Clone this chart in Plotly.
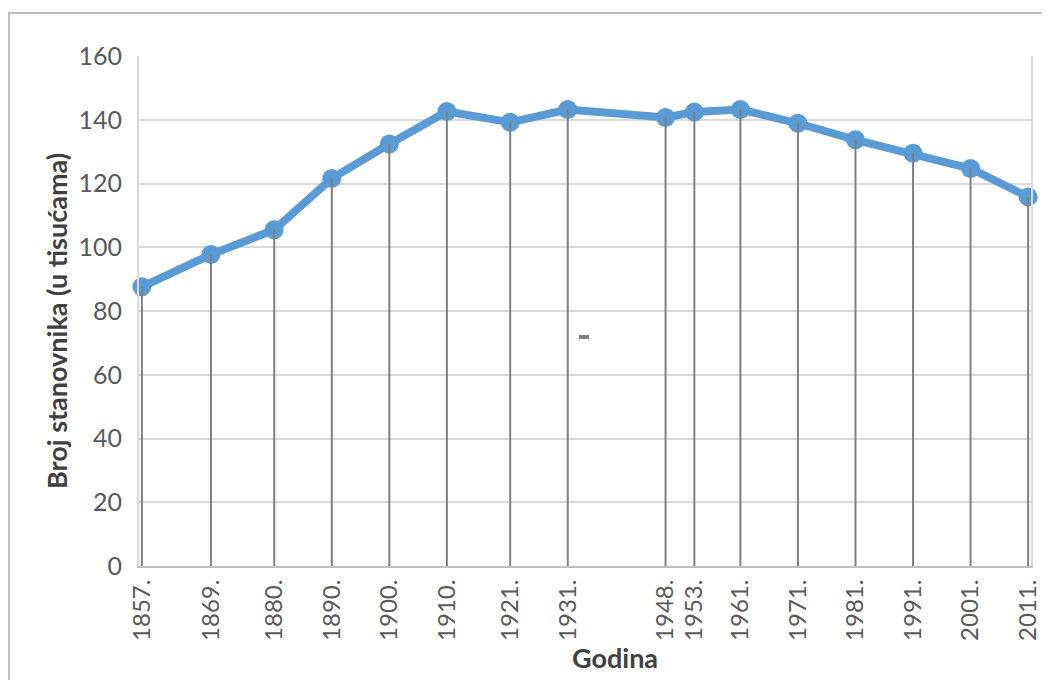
import plotly.graph_objects as go

years = [1857, 1869, 1880, 1890, 1900, 1910, 1921, 1931, 1948, 1953, 1961, 1971, 1981, 1991, 2001, 2011]
population = [87.6, 97.7, 105.5, 121.6, 132.4, 142.6, 139.2, 143.2, 140.7, 142.4, 143.2, 138.9, 133.7, 129.5, 124.7, 115.8]
tick_labels = [f"{y}." for y in years]
y_ticks = [0, 20, 40, 60, 80, 100, 120, 140, 160]

# page has 8px body margin; figure is placed at (8, 8)
OFF = 8
W, H = 1042, 672
L, R, T, B = 131, 19, 48, 114
PW, PH = W - L - R, H - T - B

def px_x(p):  # page pixel -> paper
    return (p - OFF - L) / PW

def px_y(p):
    return (H - B - (p - OFF)) / PH

# drop lines built from data
drop_x, drop_y = [], []
for yr, v in zip(years, population):
    drop_x += [yr, yr, None]
    drop_y += [0, v, None]

fig = go.Figure()
fig.add_trace(go.Scatter(
    x=years, y=population, mode="lines+markers",
    line=dict(color="#5b9bd5", width=8),
    marker=dict(color="#5b9bd5", size=19),
    showlegend=False, hoverinfo="x+y", cliponaxis=False,
))
fig.add_trace(go.Scatter(
    x=drop_x, y=drop_y, mode="lines",
    line=dict(color="#808080", width=2),
    showlegend=False, hoverinfo="skip",
))

fig.update_layout(
    width=W, height=H,
    margin=dict(l=L, r=R, t=T, b=B, autoexpand=False),
    paper_bgcolor="white", plot_bgcolor="white",
    font=dict(family="Lato, Carlito, Calibri, sans-serif", color="#595959"),
    xaxis=dict(
        range=[1856.5, 2011.5], automargin=False,
        tickmode="array", tickvals=years, ticktext=tick_labels,
        tickangle=-90, tickfont=dict(size=24, color="#595959"),
        showgrid=False, zeroline=False,
        showline=True, linecolor="#bfbfbf", linewidth=2, mirror=False,
        ticks="", ticklabelstandoff=2,
    ),
    yaxis=dict(
        range=[0, 160], automargin=False,
        tickmode="array", tickvals=y_ticks,
        tickfont=dict(size=25, color="#595959"),
        showgrid=True, gridcolor="#d9d9d9", gridwidth=2,
        zeroline=False,
        showline=True, linecolor="#d9d9d9", linewidth=2, mirror=True,
        ticks="", ticklabelstandoff=10,
    ),
    annotations=[
        dict(text="<b>Broj stanovnika (u tisućama)</b>", textangle=-90,
             xref="paper", yref="paper", x=px_x(57), y=px_y(321),
             xanchor="center", yanchor="middle", showarrow=False,
             font=dict(size=27, color="#404040", family="Lato, Calibri, sans-serif")),
        dict(text="<b>Godina</b>",
             xref="paper", yref="paper", x=px_x(615), y=px_y(657),
             xanchor="center", yanchor="middle", showarrow=False,
             font=dict(size=27, color="#404040", family="Lato, Calibri, sans-serif")),
    ],
    shapes=[
        dict(type="rect", xref="paper", yref="paper",
             x0=px_x(9), x1=px_x(1080), y0=px_y(13), y1=px_y(720),
             line=dict(color="#bfbfbf", width=2), fillcolor="rgba(0,0,0,0)", layer="below"),
        dict(type="rect", xref="paper", yref="paper",
             x0=px_x(579), x1=px_x(589), y0=px_y(339), y1=px_y(335),
             line=dict(width=0), fillcolor="#808080"),
    ],
)

fig.write_html("out.html")
